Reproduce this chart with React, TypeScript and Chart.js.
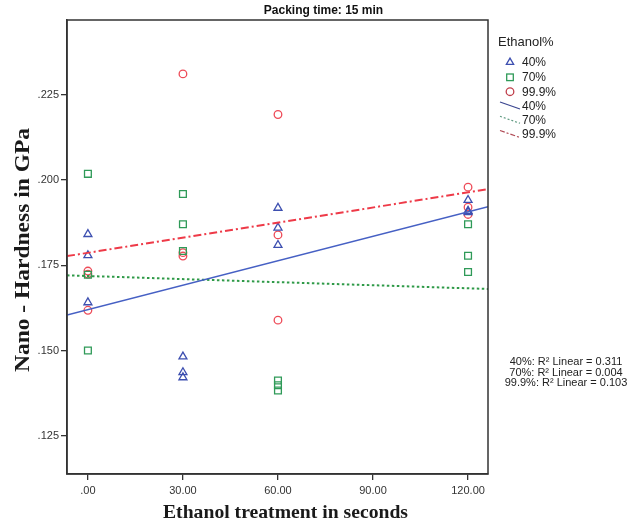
import React, { useEffect, useRef } from "react";
import { Chart, registerables } from "chart.js";

Chart.register(...registerables);

const chartTitle = "Packing time: 15 min";
const xAxisTitle = "Ethanol treatment in seconds";
const yAxisTitle = "Nano - Hardness in GPa";
const legendTitle = "Ethanol%";
const groupLabels = ["40%", "70%", "99.9%"];
const rSquaredLines = [
  "40%: R\u00b2 Linear = 0.311",
  "70%: R\u00b2 Linear = 0.004",
  "99.9%: R\u00b2 Linear = 0.103",
];

const xTicks = [0, 30, 60, 90, 120];
const yTicks = [0.125, 0.15, 0.175, 0.2, 0.225];
const xRange = [-6.6, 126.3];
const yRange = [0.1138, 0.2469];

const seconds = [0, 0, 0, 30, 30, 30, 60, 60, 60, 120, 120, 120];
const hardness40 = [0.1841, 0.1779, 0.1641, 0.1482, 0.1436, 0.1421, 0.1918, 0.186, 0.1809, 0.1941, 0.1909, 0.1905];
const hardness70 = [0.2018, 0.1722, 0.15, 0.1959, 0.187, 0.1792, 0.1412, 0.1398, 0.1383, 0.187, 0.1778, 0.173];
const hardness999 = [0.1733, 0.1724, 0.1618, 0.2311, 0.1787, 0.1777, 0.2192, 0.1839, 0.1589, 0.1979, 0.192, 0.1899];

const pointColors = ["#3d4fb0", "#2f9a58", "#ee4b58"];
const lineColors = ["#4660c4", "#2f9a48", "#ee3a48"];
const legendLineColors = ["#3a4590", "#5f9a80", "#b04a55"];

function fit(xs: number[], ys: number[]) {
  const n = xs.length;
  const mx = xs.reduce((a, b) => a + b, 0) / n;
  const my = ys.reduce((a, b) => a + b, 0) / n;
  let sxy = 0;
  let sxx = 0;
  for (let i = 0; i < n; i++) {
    sxy += (xs[i] - mx) * (ys[i] - my);
    sxx += (xs[i] - mx) * (xs[i] - mx);
  }
  const b = sxy / sxx;
  const a = my - b * mx;
  return xRange.map((x) => ({ x, y: a + b * x }));
}

function stretchedText(ctx: any, text: string, cx: number, cy: number, length: number, angle: number) {
  const w = ctx.measureText(text).width;
  ctx.save();
  ctx.translate(cx, cy);
  ctx.rotate(angle);
  ctx.scale(length / w, 1);
  ctx.textAlign = "center";
  ctx.textBaseline = "middle";
  ctx.fillText(text, 0, 0);
  ctx.restore();
}

const frameAndLegend = {
  id: "frameAndLegend",
  afterDraw(chart: any) {
    const { ctx, chartArea } = chart;
    ctx.save();
    ctx.strokeStyle = "#333";
    ctx.lineWidth = 1.5;
    ctx.strokeRect(chartArea.left, chartArea.top, chartArea.right - chartArea.left, chartArea.bottom - chartArea.top);

    // chart title
    ctx.fillStyle = "#111";
    ctx.font = "bold 12px 'Liberation Sans', Arial, sans-serif";
    ctx.textAlign = "center";
    ctx.textBaseline = "middle";
    ctx.fillText(chartTitle, 323.5, 11);

    // axis titles
    ctx.fillStyle = "#1a1a1a";
    ctx.font = "bold 19px 'Liberation Serif', 'DejaVu Serif', serif";
    stretchedText(ctx, xAxisTitle, 285.5, 513, 245, 0);
    ctx.font = "bold 20px 'Liberation Serif', 'DejaVu Serif', serif";
    stretchedText(ctx, yAxisTitle, 24, 250, 244, -Math.PI / 2);

    ctx.fillStyle = "#222";
    ctx.textBaseline = "middle";
    ctx.textAlign = "left";
    ctx.font = "13px 'Liberation Sans', Arial, sans-serif";
    ctx.fillText(legendTitle, 498, 42);

    ctx.font = "12px 'Liberation Sans', Arial, sans-serif";
    const rows = [62.3, 77.3, 91.7, 106, 120.3, 134.5];
    const mx = 510;
    const tx = 522;
    ctx.lineWidth = 1.3;
    ctx.strokeStyle = pointColors[0];
    ctx.beginPath();
    const r = 4.2;
    ctx.moveTo(mx, rows[0] - r);
    ctx.lineTo(mx + 0.866 * r, rows[0] + 0.5 * r);
    ctx.lineTo(mx - 0.866 * r, rows[0] + 0.5 * r);
    ctx.closePath();
    ctx.stroke();
    ctx.strokeStyle = pointColors[1];
    ctx.strokeRect(mx - 3.3, rows[1] - 3.3, 6.6, 6.6);
    ctx.strokeStyle = "#c0404c";
    ctx.beginPath();
    ctx.arc(mx, rows[2], 3.8, 0, Math.PI * 2);
    ctx.stroke();
    const dashes = [[], [2, 2], [5, 2, 2, 2]];
    for (let i = 0; i < 3; i++) {
      const y = rows[3 + i];
      ctx.strokeStyle = legendLineColors[i];
      ctx.lineWidth = 1.2;
      ctx.setLineDash(dashes[i]);
      ctx.beginPath();
      ctx.moveTo(500, y - 4);
      ctx.lineTo(520, y + 3);
      ctx.stroke();
    }
    ctx.setLineDash([]);
    ctx.fillStyle = "#222";
    for (let i = 0; i < 6; i++) {
      ctx.fillText(groupLabels[i % 3], tx, rows[i] + 0.5);
    }

    ctx.font = "11px 'Liberation Sans', Arial, sans-serif";
    ctx.textAlign = "center";
    rSquaredLines.forEach((t, i) => ctx.fillText(t, 566, 362 + i * 10.5));
    ctx.restore();
  },
};

export default function App() {
  const ref = useRef<HTMLCanvasElement>(null);
  useEffect(() => {
    const canvas = ref.current;
    if (!canvas) return;
    const pts = (ys: number[]) => seconds.map((x, i) => ({ x, y: ys[i] }));
    const series = [hardness40, hardness70, hardness999];
    const styles = ["triangle", "rect", "circle"];
    const radii = [4.6, 4.8, 3.8];
    const dashes = [[], [2.5, 2.5], [8, 3, 2, 3]];
    const widths = [1.5, 2, 2];

    const scatterSets = series.map((ys, i) => ({
      type: "scatter" as const,
      label: groupLabels[i],
      data: pts(ys),
      pointStyle: styles[i],
      pointRadius: radii[i],
      pointBorderWidth: 1.3,
      borderColor: pointColors[i],
      backgroundColor: "rgba(0,0,0,0)",
      order: 2,
    }));
    const lineSets = series.map((ys, i) => ({
      type: "line" as const,
      label: groupLabels[i] + " fit",
      data: fit(seconds, ys),
      borderColor: lineColors[i],
      borderWidth: widths[i],
      borderDash: dashes[i],
      pointRadius: 0,
      fill: false,
      order: 1,
    }));

    const chart = new Chart(canvas, {
      type: "scatter",
      data: { datasets: [...scatterSets, ...lineSets] as any },
      options: {
        animation: false,
        responsive: false,
        layout: { padding: { left: 0, right: 151, top: 20, bottom: 0 } },
        plugins: {
          legend: { display: false },
          tooltip: { enabled: false },
          title: { display: false },
        },
        scales: {
          x: {
            type: "linear",
            min: xRange[0],
            max: xRange[1],
            afterBuildTicks: (s: any) => {
              s.ticks = xTicks.map((v) => ({ value: v }));
            },
            afterFit: (s: any) => {
              s.height = 52;
            },
            ticks: {
              autoSkip: false,
              maxRotation: 0,
              padding: 4,
              color: "#333",
              font: { family: "'Liberation Sans', Arial, sans-serif", size: 11 },
              callback: (v: any) => Number(v).toFixed(2).replace(/^0/, ""),
            },
            grid: { drawOnChartArea: false, drawTicks: true, tickLength: 6, color: "#333", lineWidth: 1.3 },
            border: { display: true, color: "#333", width: 1.5 },
          },
          y: {
            type: "linear",
            min: yRange[0],
            max: yRange[1],
            afterBuildTicks: (s: any) => {
              s.ticks = yTicks.map((v) => ({ value: v }));
            },
            afterFit: (s: any) => {
              s.width = 67;
            },
            ticks: {
              padding: 2,
              color: "#333",
              font: { family: "'Liberation Sans', Arial, sans-serif", size: 11 },
              callback: (v: any) => Number(v).toFixed(3).replace(/^0/, ""),
            },
            grid: { drawOnChartArea: false, drawTicks: true, tickLength: 6, color: "#333", lineWidth: 1.3 },
            border: { display: true, color: "#333", width: 1.5 },
          },
        },
      },
      plugins: [frameAndLegend],
    } as any);
    return () => chart.destroy();
  }, []);

  return (
    <div style={{ position: "fixed", left: 0, top: 0, width: 639, height: 526, background: "#fff" }}>
      <canvas ref={ref} width={639} height={526} style={{ display: "block" }} />
    </div>
  );
}
